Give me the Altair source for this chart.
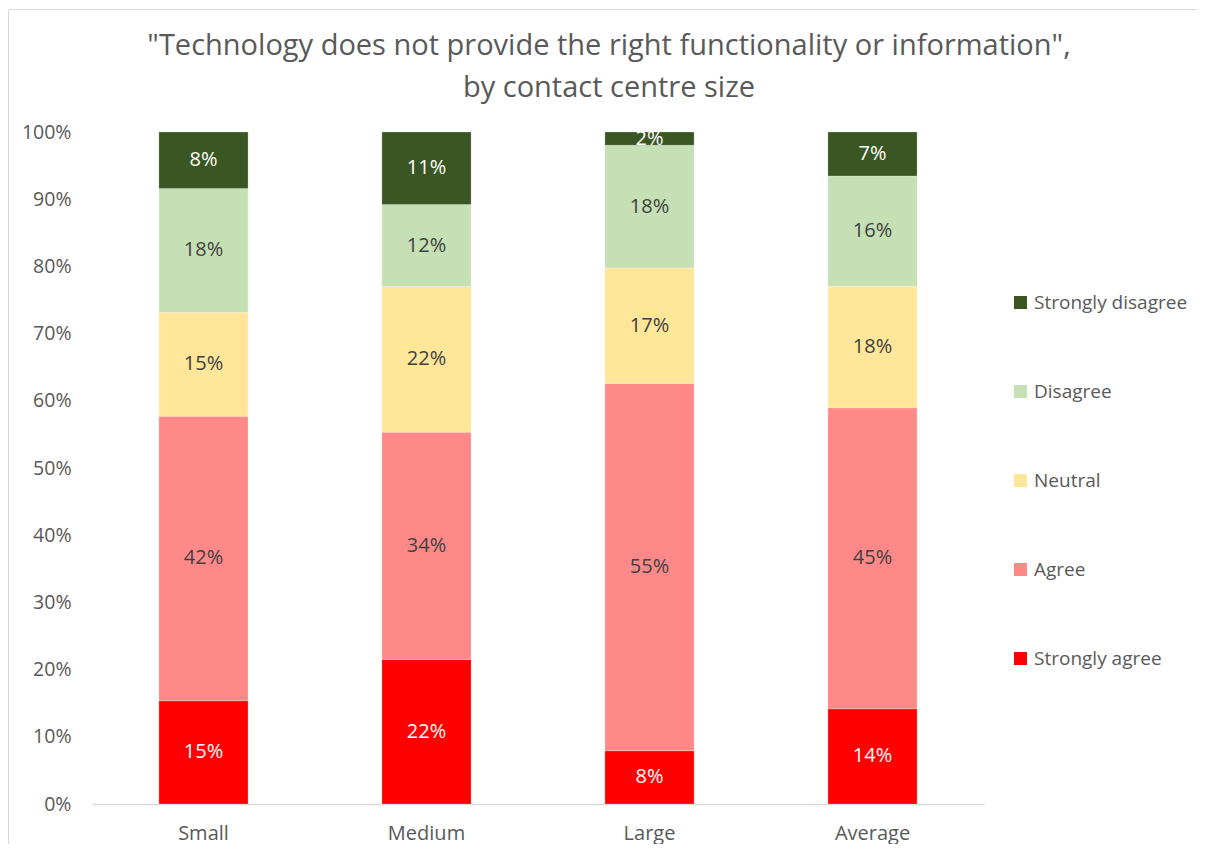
import altair as alt
import pandas as pd

sizes = ["Small", "Medium", "Large", "Average"]
categories = ["Strongly agree", "Agree", "Neutral", "Disagree", "Strongly disagree"]
strongly_agree = [15.37, 21.52, 7.93, 14.18]
agree = [42.34, 33.81, 54.65, 44.77]
neutral = [15.47, 21.67, 17.19, 18.10]
disagree = [18.40, 12.20, 18.25, 16.41]
strongly_disagree = [8.42, 10.80, 1.98, 6.54]

series = [strongly_agree, agree, neutral, disagree, strongly_disagree]
rows = []
for cat, vals in zip(categories, series):
    for s, v in zip(sizes, vals):
        rows.append({"size": s, "cat": cat, "value": v})
df = pd.DataFrame(rows)

legend_order = ["Strongly disagree", "Disagree", "Neutral", "Agree", "Strongly agree"]
colors = ["#3a5723", "#c5e0b4", "#ffe699", "#ff8989", "#ff0000"]

FONT = "Open Sans"
cat_list = "['" + "','".join(categories) + "']"

base = alt.Chart(df).transform_calculate(
    ord=f"indexof({cat_list}, datum.cat)"
).transform_stack(
    stack="value", groupby=["size"], as_=["v0", "v1"],
    sort=[alt.SortField("ord", order="ascending")]
).transform_calculate(
    mid="(datum.v0 + datum.v1) / 2",
    label="format(datum.value, '.0f') + '%'",
    tc="(datum.cat == 'Strongly agree' || datum.cat == 'Strongly disagree') ? '#ffffff' : '#404040'"
)

x_enc = alt.X(
    "size:N", sort=sizes,
    scale=alt.Scale(paddingInner=0.6, paddingOuter=0.3),
    axis=alt.Axis(title=None, labelAngle=0, ticks=False, domainColor="#d9d9d9",
                  domainWidth=1.5, labelFontSize=20, labelColor="#595959",
                  labelPadding=19, labelFont=FONT),
)

bars = base.mark_bar(stroke="#ffffff", strokeWidth=0.4, strokeOpacity=0.6).encode(
    x=x_enc,
    y=alt.Y(
        "v0:Q", scale=alt.Scale(domain=[0, 100], nice=False),
        axis=alt.Axis(title=None, values=list(range(0, 101, 10)),
                      labelExpr="datum.value + '%'", grid=False, ticks=False,
                      domain=False, labelFontSize=19.5, labelColor="#595959",
                      labelPadding=21, labelFont=FONT),
    ),
    y2="v1:Q",
    color=alt.Color(
        "cat:N",
        scale=alt.Scale(domain=legend_order, range=colors),
        legend=alt.Legend(
            title=None, orient="none", legendX=919, legendY=161,
            symbolType="square", symbolSize=170, symbolStrokeWidth=0,
            labelFontSize=19, labelColor="#595959", labelFont=FONT,
            labelOffset=4, rowPadding=69, padding=0,
        ),
    ),
)

texts = base.mark_text(fontSize=20, font=FONT, baseline="middle").encode(
    x=alt.X("size:N", sort=sizes),
    y=alt.Y("mid:Q"),
    text="label:N",
    color=alt.Color("tc:N", scale=None),
)

frame = alt.Chart(pd.DataFrame({"a": [0]})).mark_rect(
    fill=None, stroke="#d9d9d9", strokeWidth=1
).encode(
    x=alt.value(-83.5), x2=alt.value(1300), y=alt.value(-122.5), y2=alt.value(900)
)

chart = alt.layer(frame, bars, texts).properties(
    width=892,
    height=672,
    autosize=alt.AutoSizeParams(type="none"),
    padding={"left": 84, "top": 124, "right": 213, "bottom": 40},
    title=alt.TitleParams(
        text=['"Technology does not provide the right functionality or information",',
              "by contact centre size"],
        fontSize=29, font=FONT, fontWeight="normal", color="#595959",
        anchor="middle", dx=71, dy=94, offset=0, lineHeight=42,
    ),
).configure_view(stroke=None)

chart.save("out.html", embed_options={"renderer": "svg", "actions": False})
